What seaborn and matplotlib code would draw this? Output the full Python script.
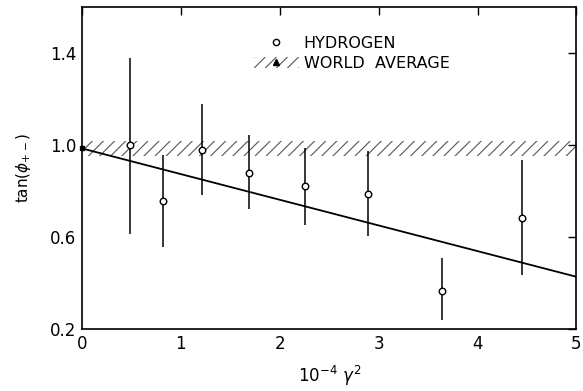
import matplotlib
matplotlib.use("Agg")
import matplotlib.pyplot as plt
import seaborn as sns
import pandas as pd
import numpy as np
from matplotlib.lines import Line2D
from matplotlib.patches import Patch

# data
gamma2 = [0.49, 0.82, 1.21, 1.69, 2.26, 2.89, 3.64, 4.45]
tan_phi = [1.00, 0.756, 0.98, 0.877, 0.82, 0.788, 0.366, 0.684]
err_hi = [1.378, 0.957, 1.178, 1.043, 0.985, 0.975, 0.51, 0.936]
err_lo = [0.615, 0.557, 0.783, 0.72, 0.653, 0.604, 0.239, 0.434]
fit_x = [0.0, 5.0]
fit_y = [0.985, 0.427]
world_avg = 0.985
world_lo, world_hi = 0.954, 1.018

df = pd.DataFrame({"x": gamma2, "y": tan_phi, "lo": err_lo, "hi": err_hi})
fit = pd.DataFrame({"x": fit_x, "y": fit_y})

sns.set_style("white")
plt.rcParams["font.family"] = ["DejaVu Sans"]
plt.rcParams["hatch.linewidth"] = 0.8
for k in ["text.color", "axes.labelcolor", "xtick.color", "ytick.color"]:
    plt.rcParams[k] = "black"

fig = plt.figure(figsize=(5.83, 3.91), dpi=100)
ax = fig.add_axes([0.1407, 0.1586, 0.848, 0.8235])

hatch_col = "#555555"
# world average band
ax.axhspan(world_lo, world_hi, facecolor="none", edgecolor=hatch_col, linewidth=0,
           hatch="///", zorder=1)

# fit line
sns.lineplot(data=fit, x="x", y="y", ax=ax, color="black", lw=1.3, zorder=2)

# error bars
ax.vlines(df["x"], df["lo"], df["hi"], color="black", lw=1.1, zorder=3)

# points
sns.scatterplot(data=df, x="x", y="y", ax=ax, marker="o", s=22, facecolor="white",
                edgecolor="black", linewidth=1.0, zorder=4)

# world average marker at axis
ax.plot([0], [world_avg], marker="s", ms=3.5, color="black", clip_on=False, zorder=5)

ax.set_xlim(0, 5)
ax.set_ylim(0.2, 1.6)
ax.set_xticks([0, 1, 2, 3, 4, 5])
ax.set_xticklabels(["0", "1", "2", "3", "4", "5"])
ax.set_yticks([0.2, 0.6, 1.0, 1.4])
ax.set_yticklabels(["0.2", "0.6", "1.0", "1.4"])
ax.tick_params(direction="in", length=6, width=1, top=True, right=True,
               labelsize=12, pad=4, colors="black")
for s in ax.spines.values():
    s.set_color("black")
    s.set_linewidth(1.2)

ax.set_xlabel(r"$10^{-4}\ \gamma^{2}$", fontsize=12, labelpad=8)
ax.set_ylabel(r"tan$(\phi_{+-})$", fontsize=11, labelpad=12)

h1 = Line2D([], [], marker="o", ls="none", mfc="white", mec="black", ms=4.5, mew=1)
h2p = Patch(facecolor="none", edgecolor=hatch_col, linewidth=0, hatch="///")
h2m = Line2D([], [], marker="^", ls="none", color="black", ms=4)
ax.legend([h1, (h2p, h2m)], ["HYDROGEN", "WORLD  AVERAGE"], loc="upper left",
          bbox_to_anchor=(0.335, 0.93), frameon=False, fontsize=11.5,
          handlelength=2.8, handletextpad=0.3, labelspacing=0.3, borderaxespad=0)

fig.savefig("out.png", dpi=100)
